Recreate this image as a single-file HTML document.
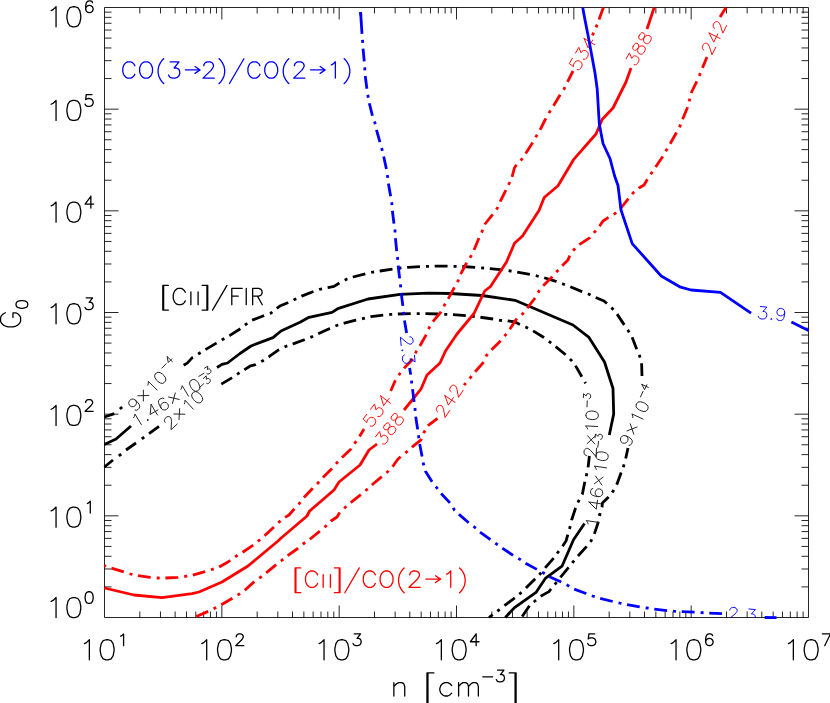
<!DOCTYPE html>
<html><head><meta charset="utf-8"><title>Contour plot</title>
<style>html,body{margin:0;padding:0;background:#fff;font-family:"Liberation Sans",sans-serif}body{width:830px;height:703px;overflow:hidden}</style></head>
<body>
<svg role="img" aria-label="Contour plot of G0 versus n [cm^-3] with [CII]/FIR, [CII]/CO(2-1) and CO(3-2)/CO(2-1) ratio contours" width="830" height="703" viewBox="0 0 830 703" style="display:block">
<title>G0 vs n [cm-3]: contours of [CII]/FIR (9x10-4, 1.46x10-3, 2x10-3), [CII]/CO(2-1) (242, 388, 534) and CO(3-2)/CO(2-1) (2.3, 3.9)</title>
<defs><clipPath id="plot"><rect x="103.10" y="6.10" width="706.80" height="612.80"/></clipPath><clipPath id="plott"><rect x="104" y="7" width="705" height="611"/></clipPath></defs>
<rect width="830" height="703" fill="#fff"/>
<path d="M104.50 7.50 H808.50 V617.50 H104.50 Z M139.82 617.50 v-6 M139.82 7.50 v6 M160.48 617.50 v-6 M160.48 7.50 v6 M175.14 617.50 v-6 M175.14 7.50 v6 M186.51 617.50 v-6 M186.51 7.50 v6 M195.80 617.50 v-6 M195.80 7.50 v6 M203.66 617.50 v-6 M203.66 7.50 v6 M210.46 617.50 v-6 M210.46 7.50 v6 M216.46 617.50 v-6 M216.46 7.50 v6 M221.83 617.50 v-12 M221.83 7.50 v12 M257.15 617.50 v-6 M257.15 7.50 v6 M277.82 617.50 v-6 M277.82 7.50 v6 M292.48 617.50 v-6 M292.48 7.50 v6 M303.85 617.50 v-6 M303.85 7.50 v6 M313.14 617.50 v-6 M313.14 7.50 v6 M320.99 617.50 v-6 M320.99 7.50 v6 M327.80 617.50 v-6 M327.80 7.50 v6 M333.80 617.50 v-6 M333.80 7.50 v6 M339.17 617.50 v-12 M339.17 7.50 v12 M374.49 617.50 v-6 M374.49 7.50 v6 M395.15 617.50 v-6 M395.15 7.50 v6 M409.81 617.50 v-6 M409.81 7.50 v6 M421.18 617.50 v-6 M421.18 7.50 v6 M430.47 617.50 v-6 M430.47 7.50 v6 M438.32 617.50 v-6 M438.32 7.50 v6 M445.13 617.50 v-6 M445.13 7.50 v6 M451.13 617.50 v-6 M451.13 7.50 v6 M456.50 617.50 v-12 M456.50 7.50 v12 M491.82 617.50 v-6 M491.82 7.50 v6 M512.48 617.50 v-6 M512.48 7.50 v6 M527.14 617.50 v-6 M527.14 7.50 v6 M538.51 617.50 v-6 M538.51 7.50 v6 M547.80 617.50 v-6 M547.80 7.50 v6 M555.66 617.50 v-6 M555.66 7.50 v6 M562.46 617.50 v-6 M562.46 7.50 v6 M568.46 617.50 v-6 M568.46 7.50 v6 M573.83 617.50 v-12 M573.83 7.50 v12 M609.15 617.50 v-6 M609.15 7.50 v6 M629.82 617.50 v-6 M629.82 7.50 v6 M644.48 617.50 v-6 M644.48 7.50 v6 M655.85 617.50 v-6 M655.85 7.50 v6 M665.14 617.50 v-6 M665.14 7.50 v6 M672.99 617.50 v-6 M672.99 7.50 v6 M679.80 617.50 v-6 M679.80 7.50 v6 M685.80 617.50 v-6 M685.80 7.50 v6 M691.17 617.50 v-12 M691.17 7.50 v12 M726.49 617.50 v-6 M726.49 7.50 v6 M747.15 617.50 v-6 M747.15 7.50 v6 M761.81 617.50 v-6 M761.81 7.50 v6 M773.18 617.50 v-6 M773.18 7.50 v6 M782.47 617.50 v-6 M782.47 7.50 v6 M790.32 617.50 v-6 M790.32 7.50 v6 M797.13 617.50 v-6 M797.13 7.50 v6 M803.13 617.50 v-6 M803.13 7.50 v6 M104.50 586.90 h7 M808.50 586.90 h-7 M104.50 568.99 h7 M808.50 568.99 h-7 M104.50 556.29 h7 M808.50 556.29 h-7 M104.50 546.44 h7 M808.50 546.44 h-7 M104.50 538.39 h7 M808.50 538.39 h-7 M104.50 531.58 h7 M808.50 531.58 h-7 M104.50 525.69 h7 M808.50 525.69 h-7 M104.50 520.49 h7 M808.50 520.49 h-7 M104.50 515.83 h14 M808.50 515.83 h-14 M104.50 485.23 h7 M808.50 485.23 h-7 M104.50 467.33 h7 M808.50 467.33 h-7 M104.50 454.62 h7 M808.50 454.62 h-7 M104.50 444.77 h7 M808.50 444.77 h-7 M104.50 436.72 h7 M808.50 436.72 h-7 M104.50 429.92 h7 M808.50 429.92 h-7 M104.50 424.02 h7 M808.50 424.02 h-7 M104.50 418.82 h7 M808.50 418.82 h-7 M104.50 414.17 h14 M808.50 414.17 h-14 M104.50 383.56 h7 M808.50 383.56 h-7 M104.50 365.66 h7 M808.50 365.66 h-7 M104.50 352.96 h7 M808.50 352.96 h-7 M104.50 343.10 h7 M808.50 343.10 h-7 M104.50 335.05 h7 M808.50 335.05 h-7 M104.50 328.25 h7 M808.50 328.25 h-7 M104.50 322.35 h7 M808.50 322.35 h-7 M104.50 317.15 h7 M808.50 317.15 h-7 M104.50 312.50 h14 M808.50 312.50 h-14 M104.50 281.90 h7 M808.50 281.90 h-7 M104.50 263.99 h7 M808.50 263.99 h-7 M104.50 251.29 h7 M808.50 251.29 h-7 M104.50 241.44 h7 M808.50 241.44 h-7 M104.50 233.39 h7 M808.50 233.39 h-7 M104.50 226.58 h7 M808.50 226.58 h-7 M104.50 220.69 h7 M808.50 220.69 h-7 M104.50 215.49 h7 M808.50 215.49 h-7 M104.50 210.83 h14 M808.50 210.83 h-14 M104.50 180.23 h7 M808.50 180.23 h-7 M104.50 162.33 h7 M808.50 162.33 h-7 M104.50 149.62 h7 M808.50 149.62 h-7 M104.50 139.77 h7 M808.50 139.77 h-7 M104.50 131.72 h7 M808.50 131.72 h-7 M104.50 124.92 h7 M808.50 124.92 h-7 M104.50 119.02 h7 M808.50 119.02 h-7 M104.50 113.82 h7 M808.50 113.82 h-7 M104.50 109.17 h14 M808.50 109.17 h-14 M104.50 78.56 h7 M808.50 78.56 h-7 M104.50 60.66 h7 M808.50 60.66 h-7 M104.50 47.96 h7 M808.50 47.96 h-7 M104.50 38.10 h7 M808.50 38.10 h-7 M104.50 30.05 h7 M808.50 30.05 h-7 M104.50 23.25 h7 M808.50 23.25 h-7 M104.50 17.35 h7 M808.50 17.35 h-7 M104.50 12.15 h7 M808.50 12.15 h-7" fill="none" stroke="#000" stroke-width="0.85"/>
<path d="M104.4 417.0 L114.4 413.6 M119.9 409.0 L122.1 407.0" fill="none" stroke="#000000" stroke-width="2.8" stroke-linejoin="round" clip-path="url(#plot)"/>
<polyline points="183.7,365.3 187.5,362.9 192.3,357.6 199.1,353.5 205.8,349.4 216.4,343.1 222.9,339.3 229.9,335.4 239.6,329.2 245.8,324.4 251.2,320.5 252.1,320.1 263.6,315.8 270.8,313.2 277.1,308.1 280.5,305.7 287.7,302.8 294.5,299.5 301.7,296.1 312.8,291.7 319.5,289.3 328.0,287.6 334.0,286.4 340.0,282.6 347.0,279.0 353.0,277.0 366.0,273.6 373.4,272.0 380.0,271.0 393.0,269.0 400.6,268.0 408.0,267.4 420.0,266.6 428.0,266.4 435.0,266.2 448.0,266.2 455.0,266.3 462.0,266.5 476.0,267.4 483.0,268.0 490.0,268.6 504.0,270.0 510.4,271.0 517.0,272.0 530.0,274.4 537.0,276.0 543.0,277.4 556.0,281.4 563.0,284.0 570.0,286.6 582.0,291.6 588.4,294.0 595.0,297.2 604.0,301.0 607.0,303.6 612.4,308.6 617.0,314.0 625.0,326.0 628.4,331.0 632.0,337.0 637.0,350.0 639.6,356.0 641.6,363.0 642.0,376.0" fill="none" stroke="#000000" stroke-width="2.8" stroke-linejoin="round" stroke-dasharray="12.91 6.00 3.00 5.70" stroke-dashoffset="0.53" clip-path="url(#plot)"/>
<polyline points="628.0,448.0 625.6,459.0 623.6,466.0 621.0,473.0 617.0,484.0 613.6,490.4 610.0,495.6 602.4,503.0 602.0,507.0 600.0,514.0 598.0,523.0 594.0,535.0 591.0,541.0 587.0,546.0 578.0,556.0 573.0,562.0 569.0,567.0 560.0,578.0 556.0,583.0 551.0,589.0 549.0,591.6 540.0,596.6 535.0,601.0 530.0,605.0 521.5,617.5" fill="none" stroke="#000000" stroke-width="2.8" stroke-linejoin="round" stroke-dasharray="12.96 6.04 3.00 5.73" stroke-dashoffset="2.24" clip-path="url(#plot)"/>
<path d="M104.4 467.0 L113.0 460.0 M118.8 455.9 L121.2 454.1 M126.0 450.0 L136.0 443.0 M141.8 438.9 L144.2 437.1 M149.0 433.6 L159.0 426.4" fill="none" stroke="#000000" stroke-width="2.8" stroke-linejoin="round" clip-path="url(#plot)"/>
<polyline points="221.3,384.1 231.4,378.1 238.1,373.7 244.9,369.4 250.7,365.8 255.5,364.6 262.4,361.0 269.0,356.7 278.6,349.9 285.6,346.5 293.1,343.9 304.3,339.7 311.5,336.9 318.7,333.5 329.8,328.4 336.6,325.5 344.3,323.1 355.8,320.2 363.6,318.4 371.0,316.6 384.0,315.0 391.0,314.4 398.0,314.0 411.0,313.6 418.0,313.6 426.0,313.6 439.0,314.0 446.0,314.4 453.0,314.6 466.0,315.6 473.0,316.4 480.0,317.2 493.0,319.0 500.0,320.4 507.5,320.8 515.0,322.0 519.0,324.0 525.6,327.0 532.5,330.5 543.5,337.3 550.0,342.2 555.5,346.5 566.0,355.0 571.2,360.2 575.3,365.3 582.0,377.0 585.6,383.4" fill="none" stroke="#000000" stroke-width="2.8" stroke-linejoin="round" stroke-dasharray="12.88 5.99 3.00 5.69" stroke-dashoffset="0.39" clip-path="url(#plot)"/>
<polyline points="589.4,456.0 588.0,468.0 586.6,474.4 585.0,481.0 582.4,494.0 578.6,501.0 575.6,508.0 571.6,520.0 570.0,527.2 568.0,534.0 566.0,541.0 563.0,545.6 557.8,552.5 553.8,558.0 545.0,568.0 540.0,574.0 535.0,579.0 525.0,589.0 520.0,593.6 515.0,597.6 504.0,606.0 499.0,610.0 494.0,613.6 489.0,617.5" fill="none" stroke="#000000" stroke-width="2.8" stroke-linejoin="round" stroke-dasharray="13.01 6.06 3.00 5.76" stroke-dashoffset="1.57" clip-path="url(#plot)"/>
<polyline points="104.4,444.4 116.0,439.0 131.0,426.0" fill="none" stroke="#000000" stroke-width="2.8" stroke-linejoin="round" clip-path="url(#plot)"/>
<polyline points="217.0,367.5 222.0,364.4 227.5,363.0 240.0,353.5 251.0,346.0 273.0,337.6 281.0,331.0 300.0,322.3 309.0,317.3 332.0,312.4 338.5,308.3 368.0,299.0 400.0,294.4 428.0,293.1 450.0,293.5 482.0,295.5 515.0,300.3 573.0,325.0 589.0,337.4 604.5,362.0 613.0,388.5 613.7,414.0 609.3,435.0" fill="none" stroke="#000000" stroke-width="2.8" stroke-linejoin="round" clip-path="url(#plot)"/>
<polyline points="584.5,523.5 573.5,539.8 562.0,566.2 545.3,578.4 536.0,592.4 514.2,607.9 505.3,617.5" fill="none" stroke="#000000" stroke-width="2.8" stroke-linejoin="round" clip-path="url(#plot)"/>
<path d="M135.56 400.27 L136.40 401.93 L136.40 403.61 L135.55 405.32 L135.13 405.75 L133.44 406.65 L131.76 406.70 L130.08 405.91 L129.66 405.50 L128.82 403.85 L128.83 402.16 L129.67 400.45 L130.10 400.02 L131.78 399.12 L133.47 399.07 L135.56 400.27 L137.66 402.31 L139.34 404.78 L139.75 406.87 L138.90 408.58 L138.06 409.45 L136.37 410.34 L135.11 409.96 M137.89 395.78 L148.83 395.43 M143.38 390.13 L143.35 401.08 M147.81 385.15 L148.24 383.88 L148.25 381.35 L157.05 389.92 M155.42 373.97 L154.58 375.68 L154.99 377.78 L156.67 380.25 L157.92 381.47 L160.44 383.08 L162.54 383.43 L164.23 382.54 L165.07 381.67 L165.92 379.96 L165.51 377.87 L163.83 375.39 L162.57 374.17 L160.06 372.57 L157.95 372.21 L156.27 373.11 L155.42 373.97 M161.93 368.07 L166.12 363.75 M167.25 356.70 L168.22 362.58 L171.92 358.77 M167.25 356.70 L172.41 361.71" fill="none" stroke="#1a1a1a" stroke-width="0.95" stroke-linecap="round" stroke-linejoin="round"/>
<path d="M133.61 417.63 L134.35 416.51 L135.00 414.07 L141.33 424.60 M147.48 419.54 L147.26 420.35 L148.08 420.54 L148.30 419.73 L147.48 419.54 M151.09 404.40 L150.12 414.54 L157.91 409.86 M151.09 404.40 L157.42 414.93 M163.93 398.73 L162.81 398.04 L160.95 398.47 L159.92 399.10 L158.66 400.53 L158.53 402.66 L159.51 405.48 L161.02 407.99 L162.74 409.68 L164.39 410.06 L166.24 409.63 L166.76 409.32 L168.02 407.88 L168.45 406.25 L168.07 404.44 L167.77 403.94 L166.34 402.74 L164.70 402.36 L162.85 402.80 L162.33 403.11 L161.07 404.55 L160.64 406.17 L161.02 407.99 M168.54 396.99 L179.20 399.45 M175.28 392.93 L172.45 403.51 M180.84 389.25 L181.58 388.13 L182.23 385.69 L188.56 396.22 M191.06 380.39 L189.80 381.82 L189.67 383.95 L190.65 386.77 L191.56 388.28 L193.58 390.47 L195.52 391.35 L197.38 390.92 L198.42 390.29 L199.68 388.86 L199.81 386.73 L198.82 383.91 L197.92 382.41 L195.89 380.21 L193.95 379.33 L192.09 379.76 L191.06 380.39 M198.85 376.34 L204.01 373.24 M204.48 368.17 L207.82 366.16 L207.41 369.60 L208.32 369.06 L209.10 368.99 L209.58 369.10 L210.41 369.79 L210.77 370.38 L210.99 371.44 L210.74 372.39 L210.00 373.24 L209.09 373.78 L208.00 374.04 L207.52 373.93 L206.87 373.52" fill="none" stroke="#1a1a1a" stroke-width="0.95" stroke-linecap="round" stroke-linejoin="round"/>
<path d="M165.15 422.39 L164.75 421.96 L164.41 420.69 L164.46 419.85 L164.95 418.60 L166.73 416.96 L168.02 416.57 L168.86 416.59 L170.10 417.04 L170.89 417.90 L171.24 419.17 L171.54 421.29 L171.04 429.69 L177.28 423.95 M173.86 413.98 L184.81 414.25 M179.66 408.65 L179.01 419.58 M184.36 403.93 L184.86 402.68 L185.01 400.16 L193.32 409.20 M192.58 393.19 L191.64 394.85 L191.94 396.96 L193.47 399.52 L194.66 400.82 L197.09 402.56 L199.17 403.03 L200.90 402.23 L201.79 401.41 L202.73 399.75 L202.43 397.64 L200.90 395.08 L199.71 393.79 L197.29 392.04 L195.21 391.57 L193.47 392.37 L192.58 393.19 M199.41 387.66 L203.84 383.58 M203.28 378.52 L206.14 375.88 L206.43 379.34 L207.21 378.62 L207.97 378.39 L208.46 378.40 L209.42 378.92 L209.88 379.42 L210.31 380.42 L210.25 381.40 L209.70 382.37 L208.92 383.09 L207.91 383.56 L207.42 383.55 L206.69 383.28" fill="none" stroke="#1a1a1a" stroke-width="0.95" stroke-linecap="round" stroke-linejoin="round"/>
<path d="M626.18 435.94 L627.51 437.23 L628.06 438.82 L627.83 440.72 L627.57 441.27 L626.27 442.67 L624.70 443.27 L622.85 443.08 L622.32 442.83 L620.99 441.54 L620.44 439.95 L620.68 438.05 L620.93 437.50 L622.23 436.11 L623.80 435.50 L626.18 435.94 L628.83 437.18 L631.23 438.96 L632.30 440.80 L632.07 442.70 L631.56 443.79 L630.26 445.19 L628.94 445.25 M626.90 430.93 L637.12 427.01 M630.23 423.80 L633.79 434.15 M632.78 417.64 L632.76 416.30 L631.94 413.91 L643.07 419.10 M636.29 404.58 L636.05 406.47 L637.13 408.31 L639.52 410.10 L641.11 410.84 L644.02 411.53 L646.12 411.17 L647.42 409.77 L647.93 408.67 L648.17 406.78 L647.09 404.94 L644.70 403.16 L643.10 402.41 L640.20 401.73 L638.10 402.08 L636.80 403.48 L636.29 404.58 M640.49 396.87 L643.03 391.41 M641.78 384.38 L644.62 389.61 L646.87 384.80 M641.78 384.38 L648.29 387.41" fill="none" stroke="#1a1a1a" stroke-width="0.95" stroke-linecap="round" stroke-linejoin="round"/>
<path d="M588.09 523.90 L587.69 522.62 L586.22 520.56 L598.37 522.38 M598.38 514.42 L598.86 515.10 L599.53 514.59 L599.04 513.90 L598.38 514.42 M588.99 502.00 L596.20 509.19 L597.54 500.21 M588.99 502.00 L601.14 503.81 M592.79 488.48 L591.54 488.91 L590.69 490.62 L590.51 491.82 L590.82 493.70 L592.38 495.16 L595.19 496.19 L598.08 496.62 L600.48 496.37 L601.82 495.34 L602.66 493.63 L602.75 493.03 L602.44 491.15 L601.47 489.78 L599.82 488.92 L599.24 488.83 L597.42 489.17 L596.08 490.20 L595.23 491.91 L595.14 492.51 L595.45 494.39 L596.43 495.76 L598.08 496.62 M594.37 483.82 L603.06 477.16 M595.53 476.04 L601.89 484.95 M596.23 469.41 L595.83 468.12 L594.36 466.07 L606.51 467.88 M595.88 455.89 L596.19 457.77 L597.75 459.23 L600.55 460.26 L602.29 460.52 L605.27 460.35 L607.19 459.41 L608.03 457.70 L608.21 456.50 L607.90 454.62 L606.35 453.16 L603.54 452.13 L601.81 451.87 L598.83 452.04 L596.91 452.98 L596.06 454.69 L595.88 455.89 M597.72 447.30 L598.61 441.34 M594.99 437.76 L595.57 433.90 L597.96 436.41 L598.12 435.36 L598.56 434.71 L598.96 434.41 L600.02 434.21 L600.70 434.31 L601.66 434.81 L602.24 435.62 L602.42 436.72 L602.26 437.77 L601.76 438.77 L601.37 439.07 L600.64 439.32" fill="none" stroke="#1a1a1a" stroke-width="0.95" stroke-linecap="round" stroke-linejoin="round"/>
<path d="M586.80 455.66 L586.21 455.63 L585.08 454.96 L584.52 454.33 L584.00 453.09 L584.13 450.67 L584.78 449.49 L585.39 448.92 L586.59 448.37 L587.76 448.43 L588.90 449.10 L590.59 450.40 L596.11 456.75 L596.56 448.29 M587.14 443.55 L595.14 436.09 M587.55 435.69 L594.73 443.95 M587.61 429.02 L587.09 427.78 L585.43 425.88 L597.70 426.52 M585.97 415.60 L586.46 417.44 L588.15 418.75 L591.03 419.50 L592.79 419.60 L595.74 419.14 L597.56 418.03 L598.24 416.24 L598.30 415.03 L597.81 413.19 L596.12 411.89 L593.23 411.13 L591.48 411.04 L588.53 411.49 L586.71 412.61 L586.03 414.39 L585.97 415.60 M586.97 406.87 L587.29 400.86 M583.34 397.64 L583.55 393.75 L586.17 396.01 L586.23 394.95 L586.61 394.26 L586.97 393.93 L588.01 393.63 L588.69 393.66 L589.70 394.07 L590.35 394.81 L590.63 395.89 L590.58 396.95 L590.18 398.00 L589.82 398.33 L589.12 398.65" fill="none" stroke="#1a1a1a" stroke-width="0.95" stroke-linecap="round" stroke-linejoin="round"/>
<polyline points="104.5,565.7 111.0,568.0 124.0,572.0 130.4,574.0 137.0,575.6 150.0,577.4 158.0,578.0 165.0,578.0 178.0,577.4 185.0,576.4 192.0,575.4 205.0,571.6 212.0,569.4 219.0,567.0 228.0,562.0 232.0,559.0 238.0,555.0 243.0,552.0 255.0,544.0 259.5,540.0 264.5,535.8 274.0,527.0 278.6,522.4 285.0,517.4 289.0,515.0 295.0,508.0 299.3,503.5 303.5,498.0 312.5,488.5 318.0,483.0 322.5,478.0 332.0,468.5 337.2,462.5 342.0,457.5 351.0,449.0 355.0,442.8 359.0,437.5 364.0,429.0" fill="none" stroke="#ff0000" stroke-width="2.8" stroke-linejoin="round" stroke-dasharray="12.89 6.00 3.00 5.70" stroke-dashoffset="20.23" clip-path="url(#plot)"/>
<polyline points="390.7,391.0 395.3,380.5 399.9,373.5 404.7,367.5 411.5,360.5 416.4,351.3 420.0,345.8 425.7,335.6 429.4,327.3 432.0,322.7 440.5,312.5 445.0,304.2 448.8,297.7 454.3,287.6 458.0,281.0 460.5,274.5 466.0,264.0 471.0,256.0 474.0,250.0 479.0,238.0 482.0,231.6 485.0,224.0 493.0,214.0 497.4,208.0 500.0,202.0 506.0,190.0 509.4,183.0 512.0,177.0 514.4,168.0 517.0,164.0 522.0,159.0 526.0,153.0 532.4,143.0 537.0,135.0 541.0,128.0 545.0,120.0 549.0,113.0 554.0,105.0 560.0,95.0 564.0,89.0 567.0,83.0 573.0,71.0" fill="none" stroke="#ff0000" stroke-width="2.8" stroke-linejoin="round" stroke-dasharray="12.92 6.01 3.00 5.71" stroke-dashoffset="1.19" clip-path="url(#plot)"/>
<path d="M592.4 35.4 L593.6 32.6 M596.0 27.4 L597.2 24.6 M599.0 19.5 L603.4 7.5" fill="none" stroke="#ff0000" stroke-width="2.8" stroke-linejoin="round" clip-path="url(#plot)"/>
<polyline points="196.0,616.6 209.0,611.0 215.0,608.0 221.0,605.0 233.0,598.0 239.4,594.0 245.0,590.0 255.0,581.0 261.0,577.0 266.0,573.0 275.0,565.6 281.0,561.0 287.0,556.0 297.0,549.0 303.0,544.0 309.0,540.0 320.0,531.0 326.0,526.0 331.0,521.0 337.0,517.0 339.0,513.6 345.6,507.0 351.0,502.4 362.0,493.6 368.0,488.6 373.0,484.0 382.5,476.0 388.5,471.0 392.7,466.5 398.0,459.0 400.0,457.3 406.3,452.2 412.0,447.2 421.0,439.8 424.2,432.0 428.0,425.6 437.5,418.3" fill="none" stroke="#ff0000" stroke-width="2.8" stroke-linejoin="round" stroke-dasharray="12.90 6.00 3.00 5.70" stroke-dashoffset="27.26" clip-path="url(#plot)"/>
<polyline points="464.0,385.2 470.5,377.5 475.8,371.0 483.7,362.0 486.6,355.3 492.3,349.0 501.0,340.5 506.0,334.3 510.2,328.6 517.0,318.3 522.6,313.9 527.0,308.5 534.3,299.0 539.0,291.0 543.0,286.0 552.0,277.0 556.4,272.0 561.0,267.0 568.0,260.0 570.0,255.0 574.0,249.6 579.6,244.4 590.0,237.6 594.5,232.2 599.0,227.0 603.0,221.0 609.0,217.0 615.0,213.6 621.0,208.0 629.0,198.0 633.0,193.0 639.0,188.0 644.0,185.0 647.0,180.0 651.6,173.0 655.6,167.0 662.4,157.0 666.4,150.0 670.0,144.0 676.5,132.5 680.0,126.0 682.7,119.0 687.5,107.5 689.5,100.0 691.6,92.0 697.0,81.0 699.6,75.0 702.4,68.0 707.0,57.0" fill="none" stroke="#ff0000" stroke-width="2.8" stroke-linejoin="round" stroke-dasharray="12.89 6.00 3.00 5.70" stroke-dashoffset="10.11" clip-path="url(#plot)"/>
<path d="M720.0 17.0 L726.0 7.5" fill="none" stroke="#ff0000" stroke-width="2.8" stroke-linejoin="round" clip-path="url(#plot)"/>
<polyline points="104.4,588.0 134.0,595.0 162.0,597.6 192.0,593.6 199.0,592.0 222.0,582.0 248.0,566.0 278.0,541.0 280.0,539.0 307.0,516.0 309.6,511.0 334.0,490.0 339.0,482.0 360.0,465.0 369.0,450.0 377.0,444.0" fill="none" stroke="#ff0000" stroke-width="2.8" stroke-linejoin="round" clip-path="url(#plot)"/>
<polyline points="404.0,410.0 413.0,399.0 421.0,389.0 427.0,375.0 440.0,363.0 445.5,351.0 457.0,334.0 474.0,313.5 484.7,291.0 490.5,286.5 506.5,262.0 514.5,243.2 522.5,236.0 539.0,210.5 544.2,197.5 558.0,185.8 573.5,159.7 596.0,134.0 602.3,119.3 613.0,108.0 626.0,82.0 631.0,68.0" fill="none" stroke="#ff0000" stroke-width="2.8" stroke-linejoin="round" clip-path="url(#plot)"/>
<polyline points="647.0,29.0 654.2,7.5" fill="none" stroke="#ff0000" stroke-width="2.8" stroke-linejoin="round" clip-path="url(#plot)"/>
<path d="M366.82 414.22 L363.16 419.04 L366.98 422.71 L366.88 421.87 L367.52 420.07 L368.61 418.63 L370.18 417.53 L371.84 417.28 L373.61 417.85 L374.54 418.56 L375.57 420.10 L375.77 421.78 L375.14 423.58 L374.04 425.02 L372.47 426.12 L371.64 426.25 L370.34 426.02 M370.48 409.40 L374.50 404.09 L376.04 409.82 L377.13 408.37 L378.33 407.76 L379.16 407.63 L380.93 408.21 L381.86 408.92 L382.89 410.46 L383.09 412.13 L382.46 413.93 L381.36 415.38 L379.80 416.47 L378.96 416.60 L377.67 416.37 M380.73 395.89 L383.59 405.67 L389.08 398.43 M380.73 395.89 L390.51 403.32" fill="none" stroke="#ff0000" stroke-width="0.95" stroke-linecap="round" stroke-linejoin="round"/>
<path d="M375.48 436.75 L379.62 431.53 L381.03 437.28 L382.16 435.86 L383.37 435.27 L384.21 435.16 L385.96 435.78 L386.87 436.50 L387.87 438.07 L388.04 439.74 L387.37 441.53 L386.24 442.95 L384.65 444.01 L383.82 444.13 L382.53 443.87 M384.13 425.83 L383.46 427.62 L384.01 428.82 L384.92 429.55 L386.21 429.80 L387.43 429.22 L389.39 427.68 L390.98 426.62 L392.64 426.40 L393.94 426.65 L395.31 427.74 L395.85 428.94 L395.94 429.78 L395.27 431.57 L393.76 433.46 L392.17 434.52 L391.34 434.64 L390.05 434.38 L388.67 433.29 L388.13 432.09 L387.97 430.42 L388.64 428.63 L389.68 426.37 L389.98 425.06 L389.44 423.85 L388.52 423.13 L387.23 422.88 L385.64 423.94 L384.13 425.83 M391.66 416.34 L390.99 418.13 L391.53 419.33 L392.44 420.06 L393.74 420.31 L394.95 419.72 L396.91 418.19 L398.50 417.13 L400.17 416.91 L401.46 417.16 L402.83 418.25 L403.38 419.45 L403.46 420.29 L402.79 422.08 L401.28 423.97 L399.70 425.03 L398.86 425.15 L397.57 424.89 L396.19 423.80 L395.65 422.60 L395.49 420.93 L396.16 419.14 L397.20 416.88 L397.50 415.57 L396.96 414.36 L396.04 413.64 L394.75 413.39 L393.16 414.45 L391.66 416.34" fill="none" stroke="#ff0000" stroke-width="0.95" stroke-linecap="round" stroke-linejoin="round"/>
<path d="M437.59 411.81 L437.10 411.49 L436.46 410.33 L436.31 409.51 L436.50 408.17 L437.84 406.16 L439.00 405.48 L439.82 405.30 L441.13 405.44 L442.11 406.09 L442.74 407.24 L443.53 409.23 L445.04 417.51 L449.74 410.46 M444.90 395.58 L448.35 405.16 L453.39 397.61 M444.90 395.58 L455.12 402.40 M451.03 391.66 L450.54 391.34 L449.90 390.19 L449.75 389.36 L449.94 388.02 L451.28 386.01 L452.44 385.33 L453.26 385.15 L454.57 385.29 L455.54 385.94 L456.18 387.10 L456.97 389.08 L458.48 397.36 L463.18 390.31" fill="none" stroke="#ff0000" stroke-width="0.95" stroke-linecap="round" stroke-linejoin="round"/>
<path d="M572.39 58.29 L569.31 63.50 L573.53 66.70 L573.34 65.88 L573.76 64.02 L574.68 62.46 L576.11 61.19 L577.73 60.75 L579.55 61.12 L580.56 61.72 L581.76 63.13 L582.15 64.77 L581.73 66.63 L580.81 68.19 L579.38 69.46 L578.57 69.68 L577.25 69.61 M575.47 53.08 L578.86 47.35 L581.04 52.86 L581.97 51.29 L583.09 50.55 L583.90 50.32 L585.72 50.70 L586.72 51.29 L587.93 52.71 L588.32 54.34 L587.90 56.21 L586.97 57.77 L585.54 59.03 L584.73 59.26 L583.42 59.18 M584.10 38.49 L588.07 47.87 L592.69 40.05 M584.10 38.49 L594.68 44.74" fill="none" stroke="#ff0000" stroke-width="0.95" stroke-linecap="round" stroke-linejoin="round"/>
<path d="M626.16 58.71 L629.46 52.92 L631.73 58.39 L632.63 56.82 L633.74 56.05 L634.55 55.82 L636.37 56.16 L637.39 56.74 L638.61 58.14 L639.03 59.77 L638.64 61.64 L637.74 63.21 L636.33 64.50 L635.52 64.74 L634.20 64.68 M633.06 46.61 L632.67 48.48 L633.39 49.58 L634.41 50.16 L635.72 50.22 L636.83 49.45 L638.54 47.64 L639.95 46.35 L641.56 45.88 L642.88 45.93 L644.40 46.80 L645.12 47.91 L645.33 48.72 L644.94 50.59 L643.74 52.70 L642.33 53.98 L641.52 54.22 L640.20 54.17 L638.68 53.30 L637.96 52.19 L637.55 50.56 L637.94 48.69 L638.63 46.30 L638.72 44.96 L638.01 43.85 L636.99 43.27 L635.67 43.22 L634.26 44.50 L633.06 46.61 M639.06 36.09 L638.67 37.96 L639.39 39.06 L640.41 39.64 L641.72 39.70 L642.83 38.93 L644.54 37.12 L645.95 35.83 L647.56 35.36 L648.88 35.41 L650.40 36.28 L651.12 37.39 L651.33 38.21 L650.94 40.07 L649.74 42.18 L648.33 43.46 L647.52 43.70 L646.20 43.65 L644.68 42.78 L643.96 41.67 L643.55 40.04 L643.94 38.17 L644.63 35.78 L644.72 34.44 L644.00 33.33 L642.99 32.75 L641.67 32.70 L640.26 33.99 L639.06 36.09" fill="none" stroke="#ff0000" stroke-width="0.95" stroke-linecap="round" stroke-linejoin="round"/>
<path d="M703.87 50.04 L703.35 49.77 L702.58 48.71 L702.32 47.90 L702.34 46.56 L703.43 44.39 L704.49 43.57 L705.29 43.29 L706.60 43.28 L707.65 43.80 L708.43 44.87 L709.45 46.73 L711.97 54.77 L715.77 47.19 M709.12 33.03 L713.73 42.11 L717.80 33.99 M709.12 33.03 L720.11 38.53 M714.72 28.38 L714.20 28.12 L713.42 27.05 L713.17 26.25 L713.19 24.90 L714.27 22.74 L715.34 21.92 L716.13 21.64 L717.45 21.62 L718.49 22.15 L719.27 23.21 L720.30 25.08 L722.82 33.11 L726.61 25.53" fill="none" stroke="#ff0000" stroke-width="0.95" stroke-linecap="round" stroke-linejoin="round"/>
<polyline points="360.6,12.0 362.0,34.0 362.6,41.0 363.0,48.0 364.4,63.0 364.8,68.6 365.2,75.6 367.0,89.6 368.0,96.0 369.0,102.0 373.0,118.0 374.8,122.4 376.4,129.6 380.0,142.4 382.0,149.4 383.6,156.0 386.4,169.0 387.6,176.6 388.4,183.6 390.6,196.0 391.8,203.0 392.4,211.0 394.0,224.0 395.0,230.6 395.4,238.0 396.8,252.0 397.6,258.4 398.2,266.0 399.6,278.0 400.6,286.0 401.2,293.0 403.0,307.0 403.6,314.0 404.4,320.0 406.6,333.0" fill="none" stroke="#0000ff" stroke-width="2.8" stroke-linejoin="round" stroke-dasharray="12.89 5.99 3.00 5.69" stroke-dashoffset="18.54" clip-path="url(#plot)"/>
<polyline points="409.6,368.0 410.6,374.0 411.6,381.8 412.4,388.0 414.0,401.0 415.0,408.6 415.6,416.0 417.6,429.0 418.6,436.4 419.6,443.6 422.0,456.0 423.4,464.0 425.6,471.6 432.4,482.4 436.6,487.5 441.0,493.3 451.0,504.0 454.4,510.0 459.0,514.4 469.0,523.0 474.4,527.0 480.0,532.0 491.0,540.0 497.0,544.4 503.0,548.6 514.0,556.0 520.0,559.4 526.0,563.4 538.0,570.0 543.6,573.0 550.0,577.0 562.0,582.4 568.0,585.6 574.0,589.0 586.0,593.5 592.4,596.0 599.0,598.0 613.0,601.6 620.0,603.2 627.0,604.6 640.0,607.0 647.0,608.0 654.0,609.0 667.0,610.6 674.0,611.2 681.0,611.6 694.0,612.2 701.0,612.6 708.0,613.0 722.0,613.6" fill="none" stroke="#0000ff" stroke-width="2.8" stroke-linejoin="round" stroke-dasharray="12.89 6.00 3.00 5.70" stroke-dashoffset="6.18" clip-path="url(#plot)"/>
<path d="M764.7 617.5 L776.5 617.6" fill="none" stroke="#0000ff" stroke-width="2.8" stroke-linejoin="round" clip-path="url(#plot)"/>
<polyline points="360.6,12.0 361.2,21.5" fill="none" stroke="#0000ff" stroke-width="2.8" stroke-linejoin="round" clip-path="url(#plot)"/>
<polyline points="582.7,7.5 585.0,20.0 588.0,35.0 595.0,73.0 597.2,89.0 599.3,124.0 603.0,143.5 610.0,158.5 614.6,176.0 618.0,185.5 621.0,210.0 632.2,243.6 661.2,276.0 680.6,287.2 691.0,290.0 720.5,292.3 751.0,313.2" fill="none" stroke="#0000ff" stroke-width="2.8" stroke-linejoin="round" clip-path="url(#plot)"/>
<polyline points="791.4,322.0 808.5,330.5" fill="none" stroke="#0000ff" stroke-width="2.8" stroke-linejoin="round" clip-path="url(#plot)"/>
<path d="M760.32 306.52 L766.95 307.10 L762.93 311.44 L764.74 311.60 L765.89 312.29 L766.44 312.93 L766.89 314.73 L766.79 315.89 L766.04 317.59 L764.73 318.65 L762.87 319.07 L761.06 318.91 L759.30 318.17 L758.75 317.54 L758.25 316.32 M771.41 318.65 L770.76 319.18 L771.31 319.81 L771.97 319.28 L771.41 318.65 M784.69 312.76 L783.94 314.46 L782.63 315.52 L780.77 315.94 L780.16 315.89 L778.41 315.15 L777.30 313.88 L776.85 312.07 L776.90 311.49 L777.66 309.80 L778.97 308.74 L780.83 308.31 L781.43 308.36 L783.19 309.11 L784.29 310.38 L784.69 312.76 L784.44 315.67 L783.58 318.54 L782.22 320.18 L780.36 320.60 L779.15 320.50 L777.39 319.76 L776.89 318.54" fill="none" stroke="#0000ff" stroke-width="0.95" stroke-linecap="round" stroke-linejoin="round"/>
<path d="M409.75 336.88 L410.34 336.82 L411.56 337.31 L412.20 337.86 L412.90 339.01 L413.13 341.42 L412.66 342.68 L412.14 343.34 L411.03 344.05 L409.87 344.16 L408.65 343.67 L406.78 342.64 L400.38 337.17 L401.19 345.61 M402.82 350.32 L402.18 349.77 L401.66 350.43 L402.30 350.98 L402.82 350.32 M414.47 355.28 L415.10 361.91 L410.10 358.74 L410.27 360.55 L409.80 361.81 L409.28 362.47 L407.59 363.24 L406.43 363.35 L404.62 362.92 L403.34 361.82 L402.58 360.07 L402.41 358.26 L402.82 356.40 L403.34 355.74 L404.45 355.03" fill="none" stroke="#0000ff" stroke-width="0.95" stroke-linecap="round" stroke-linejoin="round"/>
<path d="M729.89 610.05 L729.95 609.47 L730.66 608.36 L731.32 607.84 L732.58 607.37 L734.99 607.60 L736.14 608.30 L736.69 608.94 L737.18 610.16 L737.07 611.33 L736.35 612.43 L734.98 614.07 L728.39 619.31 L736.83 620.12 M741.76 619.42 L741.10 619.94 L741.65 620.58 L742.31 620.06 L741.76 619.42 M748.86 608.94 L755.49 609.57 L751.42 613.89 L753.23 614.06 L754.38 614.76 L754.92 615.40 L755.36 617.20 L755.25 618.37 L754.48 620.06 L753.16 621.11 L751.29 621.51 L749.49 621.34 L747.73 620.58 L747.19 619.94 L746.70 618.72" fill="none" stroke="#0000ff" stroke-width="0.95" stroke-linecap="round" stroke-linejoin="round" clip-path="url(#plott)"/>
<path d="M51.12 601.37 L53.10 600.41 L56.06 597.55 L56.06 617.60 M72.86 597.55 L69.90 598.50 L67.92 601.37 L66.93 606.14 L66.93 609.00 L67.92 613.78 L69.90 616.64 L72.86 617.60 L74.84 617.60 L77.81 616.64 L79.78 613.78 L80.77 609.00 L80.77 606.14 L79.78 601.37 L77.81 598.50 L74.84 597.55 L72.86 597.55 M88.55 591.73 L86.81 592.29 L85.65 593.97 L85.08 596.76 L85.08 598.44 L85.65 601.23 L86.81 602.91 L88.55 603.47 L89.70 603.47 L91.44 602.91 L92.59 601.23 L93.17 598.44 L93.17 596.76 L92.59 593.97 L91.44 592.29 L89.70 591.73 L88.55 591.73" fill="none" stroke="#000" stroke-width="1.30" stroke-linecap="round" stroke-linejoin="round"/>
<path d="M51.12 510.90 L53.10 509.94 L56.06 507.08 L56.06 527.13 M72.86 507.08 L69.90 508.03 L67.92 510.90 L66.93 515.67 L66.93 518.54 L67.92 523.31 L69.90 526.18 L72.86 527.13 L74.84 527.13 L77.81 526.18 L79.78 523.31 L80.77 518.54 L80.77 515.67 L79.78 510.90 L77.81 508.03 L74.84 507.08 L72.86 507.08 M87.39 503.50 L88.55 502.94 L90.28 501.27 L90.28 513.00" fill="none" stroke="#000" stroke-width="1.30" stroke-linecap="round" stroke-linejoin="round"/>
<path d="M51.12 409.23 L53.10 408.28 L56.06 405.41 L56.06 425.47 M72.86 405.41 L69.90 406.37 L67.92 409.23 L66.93 414.01 L66.93 416.87 L67.92 421.65 L69.90 424.51 L72.86 425.47 L74.84 425.47 L77.81 424.51 L79.78 421.65 L80.77 416.87 L80.77 414.01 L79.78 409.23 L77.81 406.37 L74.84 405.41 L72.86 405.41 M85.65 402.39 L85.65 401.84 L86.23 400.72 L86.81 400.16 L87.97 399.60 L90.28 399.60 L91.44 400.16 L92.02 400.72 L92.59 401.84 L92.59 402.95 L92.02 404.07 L90.86 405.75 L85.08 411.33 L93.17 411.33" fill="none" stroke="#000" stroke-width="1.30" stroke-linecap="round" stroke-linejoin="round"/>
<path d="M51.12 307.56 L53.10 306.61 L56.06 303.75 L56.06 323.80 M72.86 303.75 L69.90 304.70 L67.92 307.56 L66.93 312.34 L66.93 315.21 L67.92 319.98 L69.90 322.85 L72.86 323.80 L74.84 323.80 L77.81 322.85 L79.78 319.98 L80.77 315.21 L80.77 312.34 L79.78 307.56 L77.81 304.70 L74.84 303.75 L72.86 303.75 M86.23 297.93 L92.59 297.93 L89.12 302.40 L90.86 302.40 L92.02 302.96 L92.59 303.52 L93.17 305.20 L93.17 306.31 L92.59 307.99 L91.44 309.11 L89.70 309.67 L87.97 309.67 L86.23 309.11 L85.65 308.55 L85.08 307.43" fill="none" stroke="#000" stroke-width="1.30" stroke-linecap="round" stroke-linejoin="round"/>
<path d="M51.12 205.90 L53.10 204.94 L56.06 202.08 L56.06 222.13 M72.86 202.08 L69.90 203.03 L67.92 205.90 L66.93 210.67 L66.93 213.54 L67.92 218.31 L69.90 221.18 L72.86 222.13 L74.84 222.13 L77.81 221.18 L79.78 218.31 L80.77 213.54 L80.77 210.67 L79.78 205.90 L77.81 203.03 L74.84 202.08 L72.86 202.08 M90.86 196.27 L85.08 204.09 L93.75 204.09 M90.86 196.27 L90.86 208.00" fill="none" stroke="#000" stroke-width="1.30" stroke-linecap="round" stroke-linejoin="round"/>
<path d="M51.12 104.23 L53.10 103.28 L56.06 100.41 L56.06 120.47 M72.86 100.41 L69.90 101.37 L67.92 104.23 L66.93 109.01 L66.93 111.87 L67.92 116.65 L69.90 119.51 L72.86 120.47 L74.84 120.47 L77.81 119.51 L79.78 116.65 L80.77 111.87 L80.77 109.01 L79.78 104.23 L77.81 101.37 L74.84 100.41 L72.86 100.41 M92.02 94.60 L86.23 94.60 L85.65 99.63 L86.23 99.07 L87.97 98.51 L89.70 98.51 L91.44 99.07 L92.59 100.19 L93.17 101.86 L93.17 102.98 L92.59 104.66 L91.44 105.77 L89.70 106.33 L87.97 106.33 L86.23 105.77 L85.65 105.22 L85.08 104.10" fill="none" stroke="#000" stroke-width="1.30" stroke-linecap="round" stroke-linejoin="round"/>
<path d="M51.12 10.57 L53.10 9.61 L56.06 6.75 L56.06 26.80 M72.86 6.75 L69.90 7.70 L67.92 10.57 L66.93 15.34 L66.93 18.21 L67.92 22.98 L69.90 25.85 L72.86 26.80 L74.84 26.80 L77.81 25.85 L79.78 22.98 L80.77 18.21 L80.77 15.34 L79.78 10.57 L77.81 7.70 L74.84 6.75 L72.86 6.75 M92.59 2.61 L92.02 1.49 L90.28 0.93 L89.12 0.93 L87.39 1.49 L86.23 3.17 L85.65 5.96 L85.65 8.76 L86.23 10.99 L87.39 12.11 L89.12 12.67 L89.70 12.67 L91.44 12.11 L92.59 10.99 L93.17 9.31 L93.17 8.76 L92.59 7.08 L91.44 5.96 L89.70 5.40 L89.12 5.40 L87.39 5.96 L86.23 7.08 L85.65 8.76" fill="none" stroke="#000" stroke-width="1.30" stroke-linecap="round" stroke-linejoin="round"/>
<path d="M84.42 643.56 L86.40 642.61 L89.36 639.75 L89.36 659.80 M106.16 639.75 L103.20 640.70 L101.22 643.56 L100.23 648.34 L100.23 651.20 L101.22 655.98 L103.20 658.84 L106.16 659.80 L108.14 659.80 L111.11 658.84 L113.08 655.98 L114.07 651.20 L114.07 648.34 L113.08 643.56 L111.11 640.70 L108.14 639.75 L106.16 639.75 M120.69 636.17 L121.85 635.61 L123.58 633.93 L123.58 645.67" fill="none" stroke="#000" stroke-width="1.30" stroke-linecap="round" stroke-linejoin="round"/>
<path d="M201.75 643.56 L203.73 642.61 L206.69 639.75 L206.69 659.80 M223.50 639.75 L220.53 640.70 L218.56 643.56 L217.57 648.34 L217.57 651.20 L218.56 655.98 L220.53 658.84 L223.50 659.80 L225.47 659.80 L228.44 658.84 L230.42 655.98 L231.41 651.20 L231.41 648.34 L230.42 643.56 L228.44 640.70 L225.47 639.75 L223.50 639.75 M236.29 636.73 L236.29 636.17 L236.87 635.05 L237.44 634.49 L238.60 633.93 L240.91 633.93 L242.07 634.49 L242.65 635.05 L243.23 636.17 L243.23 637.29 L242.65 638.40 L241.49 640.08 L235.71 645.67 L243.80 645.67" fill="none" stroke="#000" stroke-width="1.30" stroke-linecap="round" stroke-linejoin="round"/>
<path d="M319.09 643.56 L321.06 642.61 L324.03 639.75 L324.03 659.80 M340.83 639.75 L337.87 640.70 L335.89 643.56 L334.90 648.34 L334.90 651.20 L335.89 655.98 L337.87 658.84 L340.83 659.80 L342.81 659.80 L345.77 658.84 L347.75 655.98 L348.74 651.20 L348.74 648.34 L347.75 643.56 L345.77 640.70 L342.81 639.75 L340.83 639.75 M354.20 633.93 L360.56 633.93 L357.09 638.40 L358.83 638.40 L359.98 638.96 L360.56 639.52 L361.14 641.20 L361.14 642.31 L360.56 643.99 L359.40 645.11 L357.67 645.67 L355.93 645.67 L354.20 645.11 L353.62 644.55 L353.04 643.43" fill="none" stroke="#000" stroke-width="1.30" stroke-linecap="round" stroke-linejoin="round"/>
<path d="M436.42 643.56 L438.40 642.61 L441.36 639.75 L441.36 659.80 M458.16 639.75 L455.20 640.70 L453.22 643.56 L452.23 648.34 L452.23 651.20 L453.22 655.98 L455.20 658.84 L458.16 659.80 L460.14 659.80 L463.11 658.84 L465.08 655.98 L466.07 651.20 L466.07 648.34 L465.08 643.56 L463.11 640.70 L460.14 639.75 L458.16 639.75 M476.16 633.93 L470.38 641.76 L479.05 641.76 M476.16 633.93 L476.16 645.67" fill="none" stroke="#000" stroke-width="1.30" stroke-linecap="round" stroke-linejoin="round"/>
<path d="M553.75 643.56 L555.73 642.61 L558.69 639.75 L558.69 659.80 M575.50 639.75 L572.53 640.70 L570.56 643.56 L569.57 648.34 L569.57 651.20 L570.56 655.98 L572.53 658.84 L575.50 659.80 L577.47 659.80 L580.44 658.84 L582.42 655.98 L583.41 651.20 L583.41 648.34 L582.42 643.56 L580.44 640.70 L577.47 639.75 L575.50 639.75 M594.65 633.93 L588.87 633.93 L588.29 638.96 L588.87 638.40 L590.60 637.84 L592.34 637.84 L594.07 638.40 L595.23 639.52 L595.80 641.20 L595.80 642.31 L595.23 643.99 L594.07 645.11 L592.34 645.67 L590.60 645.67 L588.87 645.11 L588.29 644.55 L587.71 643.43" fill="none" stroke="#000" stroke-width="1.30" stroke-linecap="round" stroke-linejoin="round"/>
<path d="M671.09 643.56 L673.06 642.61 L676.03 639.75 L676.03 659.80 M692.83 639.75 L689.87 640.70 L687.89 643.56 L686.90 648.34 L686.90 651.20 L687.89 655.98 L689.87 658.84 L692.83 659.80 L694.81 659.80 L697.77 658.84 L699.75 655.98 L700.74 651.20 L700.74 648.34 L699.75 643.56 L697.77 640.70 L694.81 639.75 L692.83 639.75 M712.56 635.61 L711.98 634.49 L710.25 633.93 L709.09 633.93 L707.36 634.49 L706.20 636.17 L705.62 638.96 L705.62 641.76 L706.20 643.99 L707.36 645.11 L709.09 645.67 L709.67 645.67 L711.40 645.11 L712.56 643.99 L713.14 642.31 L713.14 641.76 L712.56 640.08 L711.40 638.96 L709.67 638.40 L709.09 638.40 L707.36 638.96 L706.20 640.08 L705.62 641.76" fill="none" stroke="#000" stroke-width="1.30" stroke-linecap="round" stroke-linejoin="round"/>
<path d="M788.42 643.56 L790.40 642.61 L793.36 639.75 L793.36 659.80 M810.16 639.75 L807.20 640.70 L805.22 643.56 L804.23 648.34 L804.23 651.20 L805.22 655.98 L807.20 658.84 L810.16 659.80 L812.14 659.80 L815.11 658.84 L817.08 655.98 L818.07 651.20 L818.07 648.34 L817.08 643.56 L815.11 640.70 L812.14 639.75 L810.16 639.75 M830.47 633.93 L824.69 645.67 M822.38 633.93 L830.47 633.93" fill="none" stroke="#000" stroke-width="1.30" stroke-linecap="round" stroke-linejoin="round"/>
<path d="M5.32 312.78 L3.41 313.73 L1.50 315.62 L0.55 317.51 L0.55 321.29 L1.50 323.18 L3.41 325.07 L5.32 326.02 L8.19 326.96 L12.96 326.96 L15.83 326.02 L17.74 325.07 L19.65 323.18 L20.60 321.29 L20.60 317.51 L19.65 315.62 L17.74 313.73 L15.83 312.78 L12.96 312.78 M12.96 317.51 L12.96 312.78 M16.03 304.97 L16.59 306.63 L18.27 307.73 L21.06 308.29 L22.73 308.29 L25.53 307.73 L27.20 306.63 L27.76 304.97 L27.76 303.86 L27.20 302.20 L25.53 301.10 L22.73 300.54 L21.06 300.54 L18.27 301.10 L16.59 302.20 L16.03 303.86 L16.03 304.97" fill="none" stroke="#000" stroke-width="1.30" stroke-linecap="round" stroke-linejoin="round"/>
<path d="M393.85 682.63 L393.85 696.00 M393.85 686.45 L396.82 683.59 L398.80 682.63 L401.76 682.63 L403.74 683.59 L404.73 686.45 L404.73 696.00 M426.97 672.89 L426.97 703.83 M427.95 672.89 L427.95 703.83 M426.97 672.89 L433.88 672.89 M426.97 703.83 L433.88 703.83 M451.68 685.50 L449.70 683.59 L447.72 682.63 L444.76 682.63 L442.78 683.59 L440.80 685.50 L439.82 688.36 L439.82 690.27 L440.80 693.13 L442.78 695.04 L444.76 696.00 L447.72 696.00 L449.70 695.04 L451.68 693.13 M458.60 682.63 L458.60 696.00 M458.60 686.45 L461.26 683.59 L463.04 682.63 L465.71 682.63 L467.49 683.59 L468.48 686.45 L468.48 696.00 M468.48 686.45 L471.15 683.59 L472.93 682.63 L475.60 682.63 L477.38 683.59 L478.36 686.45 L478.36 696.00 M482.79 676.84 L492.62 676.84 M497.53 670.13 L503.90 670.13 L500.43 674.60 L502.16 674.60 L503.32 675.16 L503.90 675.72 L504.47 677.40 L504.47 678.51 L503.90 680.19 L502.74 681.31 L501.00 681.87 L499.27 681.87 L497.53 681.31 L496.96 680.75 L496.38 679.63 M515.10 672.89 L515.10 703.83 M516.09 672.89 L516.09 703.83 M509.17 672.89 L516.09 672.89 M509.17 703.83 L516.09 703.83" fill="none" stroke="#000" stroke-width="1.30" stroke-linecap="round" stroke-linejoin="round"/>
<path d="M134.84 65.70 L134.04 64.15 L132.43 62.60 L130.83 61.82 L127.62 61.82 L126.01 62.60 L124.41 64.15 L123.61 65.70 L122.81 68.02 L122.81 71.90 L123.61 74.22 L124.41 75.77 L126.01 77.32 L127.62 78.10 L130.83 78.10 L132.43 77.32 L134.04 75.77 L134.84 74.22 M144.46 61.82 L142.86 62.60 L141.26 64.15 L140.45 65.70 L139.65 68.02 L139.65 71.90 L140.45 74.22 L141.26 75.77 L142.86 77.32 L144.46 78.10 L147.67 78.10 L149.28 77.32 L150.88 75.77 L151.68 74.22 L152.49 71.90 L152.49 68.02 L151.68 65.70 L150.88 64.15 L149.28 62.60 L147.67 61.82 L144.46 61.82 M163.71 58.72 L162.11 60.27 L160.51 62.60 L158.90 65.70 L158.10 69.57 L158.10 72.67 L158.90 76.55 L160.51 79.65 L162.11 81.97 L163.71 83.52 M170.13 61.82 L178.96 61.82 L174.14 68.02 L176.55 68.02 L178.15 68.80 L178.96 69.57 L179.76 71.90 L179.76 73.45 L178.96 75.77 L177.35 77.32 L174.94 78.10 L172.54 78.10 L170.13 77.32 L169.33 76.55 L168.53 75.00 M185.37 69.96 L200.05 69.96 M195.00 66.55 L200.05 69.96 L195.00 73.37 M203.82 65.70 L203.82 64.92 L204.62 63.37 L205.43 62.60 L207.03 61.82 L210.24 61.82 L211.84 62.60 L212.64 63.37 L213.45 64.92 L213.45 66.47 L212.64 68.02 L211.04 70.35 L203.02 78.10 L214.25 78.10 M219.06 58.72 L220.67 60.27 L222.27 62.60 L223.87 65.70 L224.68 69.57 L224.68 72.67 L223.87 76.55 L222.27 79.65 L220.67 81.97 L219.06 83.52 M243.93 58.72 L229.49 83.52 M259.97 65.70 L259.17 64.15 L257.56 62.60 L255.96 61.82 L252.75 61.82 L251.15 62.60 L249.54 64.15 L248.74 65.70 L247.94 68.02 L247.94 71.90 L248.74 74.22 L249.54 75.77 L251.15 77.32 L252.75 78.10 L255.96 78.10 L257.56 77.32 L259.17 75.77 L259.97 74.22 M269.60 61.82 L267.99 62.60 L266.39 64.15 L265.58 65.70 L264.78 68.02 L264.78 71.90 L265.58 74.22 L266.39 75.77 L267.99 77.32 L269.60 78.10 L272.80 78.10 L274.41 77.32 L276.01 75.77 L276.81 74.22 L277.62 71.90 L277.62 68.02 L276.81 65.70 L276.01 64.15 L274.41 62.60 L272.80 61.82 L269.60 61.82 M288.85 58.72 L287.24 60.27 L285.64 62.60 L284.03 65.70 L283.23 69.57 L283.23 72.67 L284.03 76.55 L285.64 79.65 L287.24 81.97 L288.85 83.52 M294.46 65.70 L294.46 64.92 L295.26 63.37 L296.07 62.60 L297.67 61.82 L300.88 61.82 L302.48 62.60 L303.28 63.37 L304.09 64.92 L304.09 66.47 L303.28 68.02 L301.68 70.35 L293.66 78.10 L304.89 78.10 M310.50 69.96 L325.18 69.96 M320.13 66.55 L325.18 69.96 L320.13 73.37 M331.36 64.92 L332.96 64.15 L335.37 61.82 L335.37 78.10 M344.19 58.72 L345.80 60.27 L347.40 62.60 L349.01 65.70 L349.81 69.57 L349.81 72.67 L349.01 76.55 L347.40 79.65 L345.80 81.97 L344.19 83.52" fill="none" stroke="#0000ff" stroke-width="1.30" stroke-linecap="round" stroke-linejoin="round"/>
<path d="M162.81 285.32 L162.81 310.12 M163.61 285.32 L163.61 310.12 M162.81 285.32 L168.42 285.32 M162.81 310.12 L168.42 310.12 M185.27 292.30 L184.47 290.75 L182.86 289.20 L181.26 288.43 L178.05 288.43 L176.44 289.20 L174.84 290.75 L174.04 292.30 L173.24 294.62 L173.24 298.50 L174.04 300.82 L174.84 302.38 L176.44 303.93 L178.05 304.70 L181.26 304.70 L182.86 303.93 L184.47 302.38 L185.27 300.82 M190.88 291.99 L190.88 304.70 M198.10 291.99 L198.10 304.70 M206.93 285.32 L206.93 310.12 M207.73 285.32 L207.73 310.12 M202.11 285.32 L207.73 285.32 M202.11 310.12 L207.73 310.12 M226.98 285.32 L212.54 310.12 M231.79 288.43 L231.79 304.70 M231.79 288.43 L242.22 288.43 M231.79 296.18 L238.21 296.18 M246.23 288.43 L246.23 304.70 M252.65 288.43 L252.65 304.70 M252.65 288.43 L258.66 288.43 L260.67 289.20 L261.47 289.97 L262.11 291.52 L262.11 293.07 L261.47 294.62 L260.67 295.40 L258.66 296.18 L252.65 296.18 M257.46 296.18 L262.27 304.70" fill="none" stroke="#000000" stroke-width="1.30" stroke-linecap="round" stroke-linejoin="round"/>
<path d="M295.11 567.92 L295.11 592.72 M295.91 567.92 L295.91 592.72 M295.11 567.92 L300.72 567.92 M295.11 592.72 L300.72 592.72 M317.57 574.90 L316.77 573.35 L315.16 571.80 L313.56 571.02 L310.35 571.02 L308.74 571.80 L307.14 573.35 L306.34 574.90 L305.54 577.22 L305.54 581.10 L306.34 583.42 L307.14 584.97 L308.74 586.52 L310.35 587.30 L313.56 587.30 L315.16 586.52 L316.77 584.97 L317.57 583.42 M323.18 574.59 L323.18 587.30 M330.40 574.59 L330.40 587.30 M339.23 567.92 L339.23 592.72 M340.03 567.92 L340.03 592.72 M334.41 567.92 L340.03 567.92 M334.41 592.72 L340.03 592.72 M359.28 567.92 L344.84 592.72 M375.32 574.90 L374.52 573.35 L372.91 571.80 L371.31 571.02 L368.10 571.02 L366.50 571.80 L364.89 573.35 L364.09 574.90 L363.29 577.22 L363.29 581.10 L364.09 583.42 L364.89 584.97 L366.50 586.52 L368.10 587.30 L371.31 587.30 L372.91 586.52 L374.52 584.97 L375.32 583.42 M384.95 571.02 L383.34 571.80 L381.74 573.35 L380.94 574.90 L380.13 577.22 L380.13 581.10 L380.94 583.42 L381.74 584.97 L383.34 586.52 L384.95 587.30 L388.15 587.30 L389.76 586.52 L391.36 584.97 L392.17 583.42 L392.97 581.10 L392.97 577.22 L392.17 574.90 L391.36 573.35 L389.76 571.80 L388.15 571.02 L384.95 571.02 M404.20 567.92 L402.59 569.47 L400.99 571.80 L399.38 574.90 L398.58 578.77 L398.58 581.88 L399.38 585.75 L400.99 588.85 L402.59 591.17 L404.20 592.72 M409.81 574.90 L409.81 574.12 L410.61 572.57 L411.42 571.80 L413.02 571.02 L416.23 571.02 L417.83 571.80 L418.64 572.57 L419.44 574.12 L419.44 575.67 L418.64 577.22 L417.03 579.55 L409.01 587.30 L420.24 587.30 M425.85 579.16 L440.53 579.16 M435.48 575.75 L440.53 579.16 L435.48 582.57 M446.71 574.12 L448.31 573.35 L450.72 571.02 L450.72 587.30 M459.54 567.92 L461.15 569.47 L462.75 571.80 L464.36 574.90 L465.16 578.77 L465.16 581.88 L464.36 585.75 L462.75 588.85 L461.15 591.17 L459.54 592.72" fill="none" stroke="#ff0000" stroke-width="1.30" stroke-linecap="round" stroke-linejoin="round"/>
</svg>
</body></html>
